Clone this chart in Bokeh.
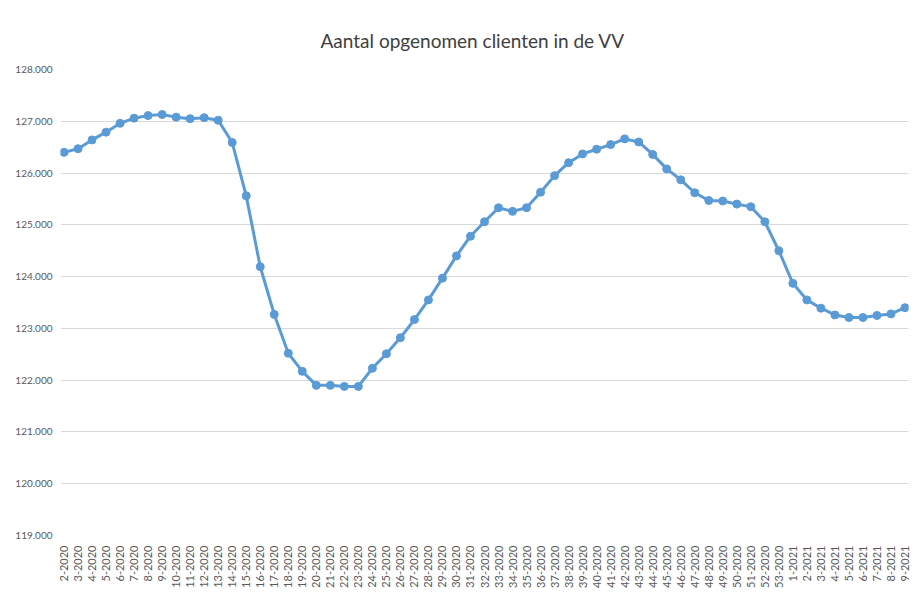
import math
from bokeh.plotting import figure
from bokeh.models import Range1d, FixedTicker
from bokeh.embed import file_html
from bokeh.resources import INLINE

weeks = [f"{w}-2020" for w in range(2, 54)] + [f"{w}-2021" for w in range(1, 10)]
clients = [
    126400, 126470, 126640, 126790, 126960, 127060, 127110, 127130, 127080, 127050,
    127070, 127020, 126590, 125560, 124190, 123270, 122520, 122170, 121900, 121900,
    121880, 121880, 122230, 122510, 122820, 123170, 123550, 123970, 124400, 124780,
    125060, 125330, 125260, 125330, 125630, 125950, 126200, 126370, 126460, 126550,
    126660, 126600, 126360, 126080, 125870, 125620, 125470, 125460, 125400, 125350,
    125060, 124500, 123870, 123550, 123390, 123260, 123210, 123210, 123250, 123280,
    123400,
]
y_ticks = [119000, 120000, 121000, 122000, 123000, 124000, 125000, 126000, 127000, 128000]
y_tick_labels = ["119.000", "120.000", "121.000", "122.000", "123.000",
                 "124.000", "125.000", "126.000", "127.000", "128.000"]

xs = list(range(len(weeks)))
font = "Lato"
grey = "#595959"
blue = "#5B9BD5"

p = figure(width=911, height=590, output_backend="svg", toolbar_location=None,
           x_range=Range1d(-0.25, len(weeks) - 0.75), y_range=Range1d(119000, 128000),
           min_border_left=60, min_border_right=3, min_border_top=69, min_border_bottom=54,
           title="Aantal opgenomen clienten in de VV")
p.title.align = "left"
p.title.text_font = font
p.title.text_font_size = "19px"
p.title.text_font_style = "normal"
p.title.text_color = "#404040"
p.title.offset = 260
p.title.standoff = 35

p.outline_line_color = None
p.background_fill_color = "white"
p.border_fill_color = "white"

p.xgrid.grid_line_color = None
p.ygrid.grid_line_color = "#d9d9d9"
p.ygrid.grid_line_width = 1
p.ygrid.ticker = FixedTicker(ticks=y_ticks)

p.yaxis.ticker = FixedTicker(ticks=y_ticks)
p.yaxis.major_label_overrides = dict(zip(y_ticks, y_tick_labels))
p.yaxis.axis_line_color = None
p.yaxis.major_tick_line_color = None
p.yaxis.minor_tick_line_color = None
p.yaxis.major_label_standoff = 2
p.yaxis.major_label_text_font = font
p.yaxis.major_label_text_font_size = "10px"
p.yaxis.major_label_text_color = grey

p.xaxis.ticker = FixedTicker(ticks=xs)
p.xaxis.major_label_overrides = {i: w for i, w in zip(xs, weeks)}
p.xaxis.major_label_orientation = math.pi / 2
p.xaxis.axis_line_color = None
p.xaxis.major_tick_line_color = None
p.xaxis.minor_tick_line_color = None
p.xaxis.major_label_standoff = 4
p.xaxis.major_label_text_font = font
p.xaxis.major_label_text_font_size = "11px"
p.xaxis.major_label_text_color = grey

p.line(xs, clients, line_width=3, color=blue)
p.scatter(xs, clients, size=8, color=blue)

open("out.html", "w").write(file_html(p, INLINE))
